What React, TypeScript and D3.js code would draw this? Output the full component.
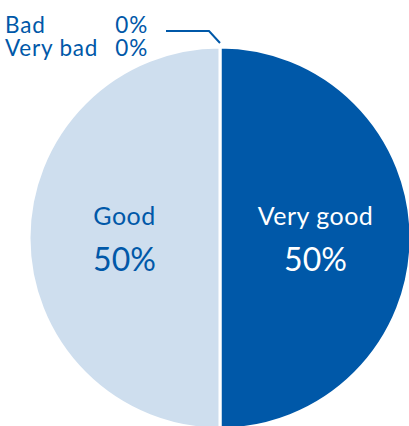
import React from "react";
import * as d3 from "d3";

const categories = ["Very good", "Good", "Bad", "Very bad"];
const values = [50, 50, 0, 0];
const colors = ["#0058a8", "#cedeee", "#0058a8", "#0058a8"];

const W = 409;
const H = 426;
const cx = 220;
const cy = 238;
const R = 191;
const FONT = "Lato, 'Open Sans', sans-serif";
const DARK = "#0058a8";

export default function App() {
  const pie = d3.pie<number>().sort(null).value((d) => d);
  const arcs = pie(values);
  const arc = d3.arc<d3.PieArcDatum<number>>().innerRadius(0).outerRadius(R);
  const labelArc = d3.arc<d3.PieArcDatum<number>>().innerRadius(R * 0.5).outerRadius(R * 0.5);

  const zeroIdx = arcs.map((a, i) => (a.value === 0 ? i : -1)).filter((i) => i >= 0);

  return (
    <svg width={W} height={H} style={{ position: "absolute", left: 0, top: 0, fontFamily: FONT }}>
      <g transform={`translate(${cx},${cy})`}>
        {arcs.map((a, i) =>
          a.value > 0 ? (
            <path key={i} d={arc(a) || ""} fill={colors[i]} stroke="#fff" strokeWidth={3} />
          ) : null
        )}
        {arcs.map((a, i) => {
          if (a.value === 0) return null;
          const [x, y] = labelArc.centroid(a);
          const fill = i === 0 ? "#fff" : DARK;
          return (
            <g key={"l" + i} fill={fill} textAnchor="middle">
              <text x={x} y={y - 13} fontSize={25} letterSpacing={0.5}>{categories[i]}</text>
              <text x={x} y={y + 33} fontSize={32}>{values[i]}%</text>
            </g>
          );
        })}
      </g>
      {zeroIdx.map((i, k) => (
        <g key={"z" + i} fill={DARK} fontSize={22.5} letterSpacing={0.8}>
          <text x={5} y={33 + k * 23}>{categories[i]}</text>
          <text x={148} y={33 + k * 23} textAnchor="end">{values[i]}%</text>
        </g>
      ))}
      <polyline
        points={`166,31 209,31 ${cx},${cy - R - 4}`}
        fill="none"
        stroke={DARK}
        strokeWidth={2}
      />
    </svg>
  );
}
